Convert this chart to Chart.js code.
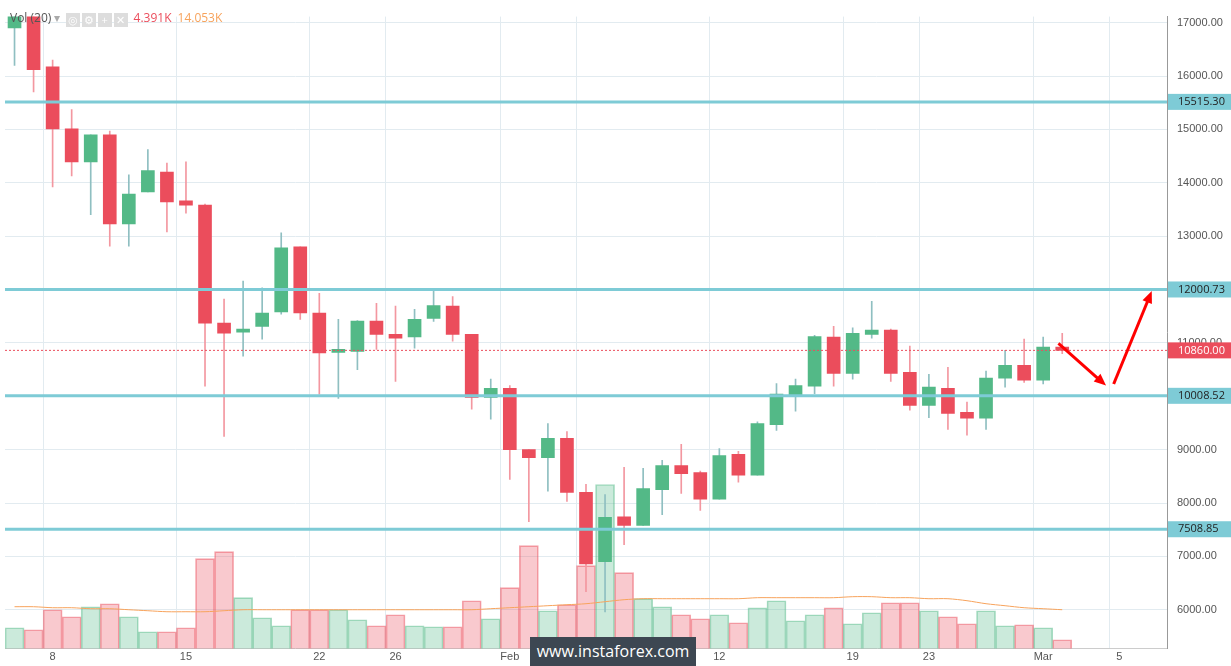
<!DOCTYPE html>
<html>
<head>
<meta charset="utf-8">
<script src="https://cdn.jsdelivr.net/npm/chart.js@4"></script>
<style>
  html, body { margin: 0; padding: 0; background: #fff; }
  #wrap { position: relative; width: 1231px; height: 666px; font-family: "Open Sans", Arial, sans-serif; }
  #legend { position: absolute; left: 10px; top: 9px; font-size: 12px; color: #555; }
  #legend .red { color: #eb4d5c; margin-left: 6px; }
  #legend .org { color: #f7a35c; margin-left: 6px; }
  #legend .btn { display: inline-block; width: 14px; height: 14px; background: #ddd; color: #fff; font-size: 11px; text-align: center; line-height: 14px; margin-left: 2px; vertical-align: -2px; }
  #mark { position: absolute; left: 530px; top: 637px; width: 166px; height: 29px; background: #3d4752; color: #fff; font-size: 16px; text-align: center; line-height: 29px; }
</style>
</head>
<body>
<div id="wrap">
  <canvas id="c" width="1231" height="666"></canvas>
  <div id="legend">Vol (20) <span style="color:#aaa">&#9662;</span> <span class="btn">&#9678;</span><span class="btn">&#9881;</span><span class="btn">+</span><span class="btn">&#10005;</span><span class="red">4.391K</span><span class="org">14.053K</span></div>
  <div id="mark">www.instaforex.com</div>
</div>
<script>
const days = ["6","7","8","9","10","11","12","13","14","15","16","17","18","19","20","21","22","23","24","25","26","27","28","29","30","31",
  "Feb","2","3","4","5","6","7","8","9","10","11","12","13","14","15","16","17","18","19","20","21","22","23","24","25","26","27","28",
  "Mar","2","3","4","5","6","7"];
const shownTicks = [2, 9, 16, 20, 26, 30, 37, 44, 48, 54, 58];

const opens  = [16900,17150,16170,15010,14390,14900,13230,13830,14200,13660,13580,11370,11200,11310,11580,12800,11560,10820,10840,11410,11160,11110,11460,11690,11160,9980,
  10150,9000,8850,9210,8200,6900,7740,7580,8250,8700,8570,8070,8910,8520,9470,10000,10190,11110,10430,11160,11240,10450,9830,10150,9700,9590,10340,10580,10300,10920];
const closes = [17150,16120,15010,14390,14900,13230,13790,14230,13640,13580,11370,11180,11250,11560,12780,11560,10810,10860,11410,11160,11090,11440,11700,11160,9980,10150,
  9000,8850,9210,8200,6860,7730,7580,8270,8700,8550,8070,8890,8520,9490,10040,10200,11120,10430,11180,11240,10430,9830,10170,9680,9590,10340,10580,10300,10920,10860];
const highs  = [17200,17200,16300,15370,14900,14970,14150,14620,14370,14390,13600,11820,12160,12030,13060,12800,11930,11440,11420,11740,11690,11630,11970,11870,11160,10320,
  10200,9000,9490,9340,8350,8160,8670,8650,8800,9100,8600,9020,8970,9520,10240,10320,11140,11310,11280,11780,11260,10940,10410,10540,9890,10470,10860,11070,11110,11180];
const lows   = [16200,15700,13920,14130,13400,12810,12810,13830,13080,13430,10190,9250,10750,11070,11540,11440,10040,9960,10500,10880,10280,10900,11400,11030,9760,9570,
  8440,7650,8220,8030,6340,5960,7220,7580,7780,8180,7860,8070,8390,8520,9360,9720,10050,10190,10320,11090,10280,9740,9600,9380,9270,9380,10170,10260,10230,10800];
const volumes = [21,19,39,32,42,45,32,17,17,21,90,97,51,31,23,39,39,39,29,23,34,23,22,22,48,30,
  61,103,38,44,83,164,76,50,42,34,30,34,26,41,48,28,34,41,25,36,46,46,38,32,25,38,23,24,21,9];
const volumeMA = [42,42,41,41,40,40,39,38,37,37,37,38,39,39,39,39,39,39,39,39,39,39,39,39,39,40,
  41,42,43,44,45,47,49,50,50,50,50,50,50,51,51,51,51,51,52,52,51,51,50,50,48,45,43,41,40,39];
const levels = [15515.30, 12000.73, 10008.52, 7508.85];
const lastPrice = 10860;
const yTicks = [6000,7000,8000,9000,10000,11000,12000,13000,14000,15000,16000,17000];
// arrows: [fromIndex, fromPrice, toIndex, toPrice]
const arrows = [[54.8, 10990, 57.3, 10200], [57.7, 10230, 59.7, 11970]];

const GREEN = "#53b987", RED = "#eb4d5c";
const up = opens.map((o, i) => closes[i] >= o);
const bodies = opens.map((o, i) => {
  let c = closes[i];
  if (Math.abs(c - o) < 60) c = o + (up[i] ? 60 : -60);
  return [o, c];
});
const wicks = lows.map((l, i) => [l, highs[i]]);

const overlay = {
  id: "overlay",
  afterDatasetsDraw(chart) {
    const { ctx, chartArea: a, scales: { x, y } } = chart;
    ctx.save();
    ctx.strokeStyle = "#7ecbd6"; ctx.lineWidth = 3;
    levels.forEach(v => {
      const py = y.getPixelForValue(v);
      ctx.beginPath(); ctx.moveTo(a.left, py); ctx.lineTo(a.right, py); ctx.stroke();
    });
    const py0 = y.getPixelForValue(lastPrice);
    ctx.strokeStyle = RED; ctx.lineWidth = 1; ctx.setLineDash([2, 2]);
    ctx.beginPath(); ctx.moveTo(a.left, py0); ctx.lineTo(a.right, py0); ctx.stroke();
    ctx.setLineDash([]);
    ctx.strokeStyle = "#ff0000"; ctx.fillStyle = "#ff0000"; ctx.lineWidth = 3;
    arrows.forEach(([i0, p0, i1, p1]) => {
      const x0 = x.getPixelForValue(i0), y0 = y.getPixelForValue(p0);
      const x1 = x.getPixelForValue(i1), y1 = y.getPixelForValue(p1);
      const ang = Math.atan2(y1 - y0, x1 - x0);
      ctx.beginPath(); ctx.moveTo(x0, y0); ctx.lineTo(x1 - 8 * Math.cos(ang), y1 - 8 * Math.sin(ang)); ctx.stroke();
      ctx.beginPath();
      ctx.moveTo(x1, y1);
      ctx.lineTo(x1 - 13 * Math.cos(ang - 0.4), y1 - 13 * Math.sin(ang - 0.4));
      ctx.lineTo(x1 - 13 * Math.cos(ang + 0.4), y1 - 13 * Math.sin(ang + 0.4));
      ctx.closePath(); ctx.fill();
    });
    // axis labels
    ctx.font = "11px 'Open Sans', Arial";
    ctx.textBaseline = "middle";
    levels.forEach(v => {
      const py = y.getPixelForValue(v);
      ctx.fillStyle = "#7ecbd6"; ctx.fillRect(a.right + 1, py - 8, 63, 16);
      ctx.fillStyle = "#222"; ctx.fillText(v.toFixed(2), a.right + 11, py);
    });
    ctx.fillStyle = RED; ctx.fillRect(a.right + 1, py0 - 8, 63, 16);
    ctx.fillStyle = "#fff"; ctx.fillText(lastPrice.toFixed(2), a.right + 11, py0);
    ctx.restore();
  }
};

new Chart(document.getElementById("c"), {
  data: {
    labels: days,
    datasets: [
      { type: "line", data: volumeMA, yAxisID: "yv", borderColor: "#f7a35c", borderWidth: 1, pointRadius: 0, tension: 0.3, order: 0 },
      { type: "bar", data: volumes, yAxisID: "yv", grouped: false, barPercentage: 1, categoryPercentage: 1,
        backgroundColor: up.map(u => u ? "rgba(83,185,135,0.3)" : "rgba(235,77,92,0.3)"),
        borderColor: up.map(u => u ? "rgba(83,185,135,0.5)" : "rgba(235,77,92,0.5)"), borderWidth: 1, order: 3 },
      { type: "bar", data: wicks, yAxisID: "y", grouped: false, barThickness: 1,
        backgroundColor: up.map(u => u ? "#8fbfc1" : "#f397a0"), order: 2 },
      { type: "bar", data: bodies, yAxisID: "y", grouped: false, barThickness: 13,
        backgroundColor: up.map(u => u ? GREEN : RED), order: 1 }
    ]
  },
  options: {
    responsive: false,
    animation: false,
    layout: { padding: { left: 5, top: 0, right: 0, bottom: 0 } },
    plugins: { legend: { display: false }, tooltip: { enabled: false } },
    scales: {
      x: {
        offset: true,
        grid: { color: ctx => shownTicks.includes(ctx.index) ? "#e2ebf0" : "transparent", drawTicks: false },
        border: { color: "#ccc" },
        ticks: { autoSkip: false, maxRotation: 0, color: "#555", font: { size: 11 }, padding: 2,
          callback: (v, i) => shownTicks.includes(i) ? days[i] : "" }
      },
      y: {
        position: "right", min: 5269, max: 17113,
        afterBuildTicks: s => { s.ticks = yTicks.map(v => ({ value: v })); },
        afterFit: s => { s.width = 64; },
        grid: { color: "#e2ebf0", drawTicks: false },
        border: { color: "#999" },
        ticks: { color: "#555", font: { size: 11 }, padding: 10, callback: v => v.toFixed(2) }
      },
      yv: { display: false, min: 0, max: 631 }
    }
  },
  plugins: [overlay]
});
</script>
</body>
</html>
